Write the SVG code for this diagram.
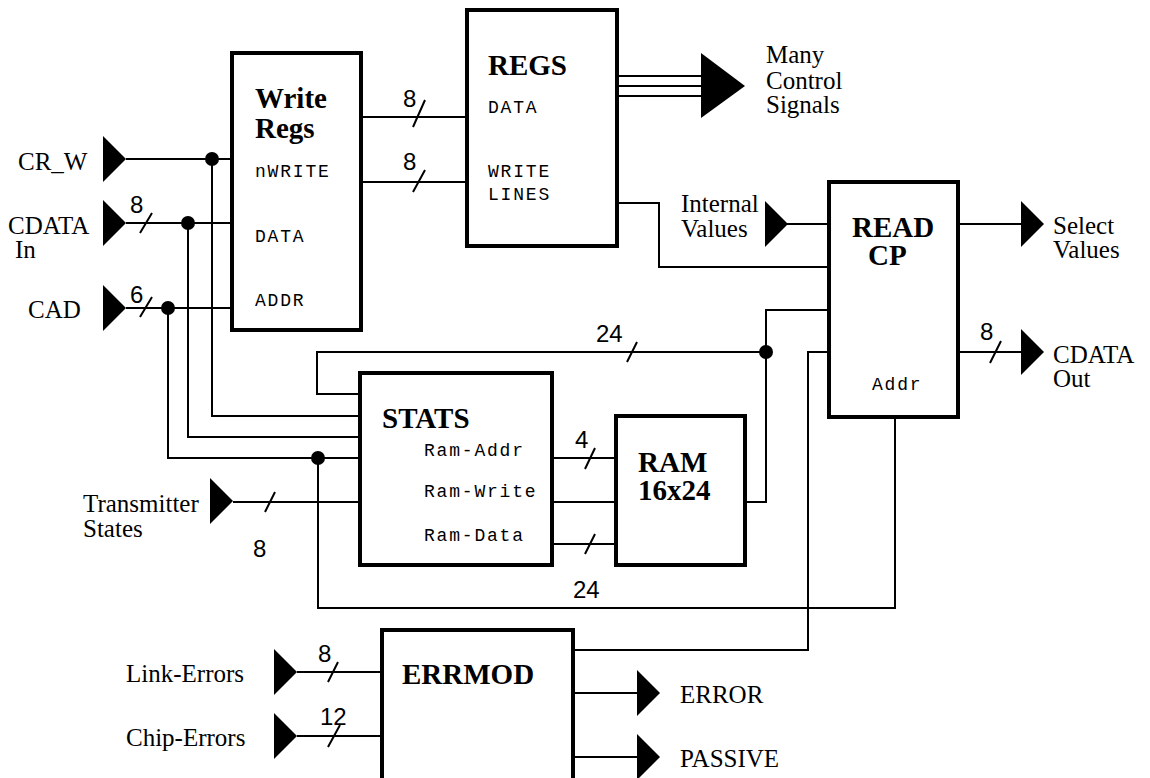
<svg xmlns="http://www.w3.org/2000/svg" xmlns:xlink="http://www.w3.org/1999/xlink" width="1150" height="778" viewBox="0 0 1150 778">
<style>
.box{fill:#fff;stroke:#000;stroke-width:4}
.wire{fill:none;stroke:#000;stroke-width:2}
.title{font-family:"Liberation Serif",serif;font-weight:bold;font-size:29px;fill:#000}
.lbl{font-family:"Liberation Serif",serif;font-size:25px;fill:#000}
.port{font-family:"Liberation Mono",monospace;font-size:18px;letter-spacing:1.8px;fill:#000}
.num{font-family:"Liberation Sans",sans-serif;font-size:24px;fill:#000}
.dot{fill:#000}
</style>
<defs>
<path id="tri" d="M0,-23 L23,0 L0,23 Z" fill="#000"/>
</defs>
<rect width="1150" height="778" fill="#fff"/>
<g id="connectors">
<path class="wire" d="M126,159 H232 M212,159 V416 H360"/>
<path class="wire" d="M126,223 H232 M188,223 V437 H360"/>
<path class="wire" d="M126,308 H232 M168,308 V458 H360"/>
<path class="wire" d="M361,117 H467 M361,182 H467"/>
<path class="wire" d="M617,76 H701 M617,86 H701 M617,96 H701"/>
<path class="wire" d="M617,203 H659 V267 H829"/>
<path class="wire" d="M787,224 H829 M958,224 H1022 M958,352 H1022"/>
<path class="wire" d="M360,394 H317 V352 H766"/>
<path class="wire" d="M745,502 H766 V310 H829"/>
<path class="wire" d="M573,650 H808 V352 H829"/>
<path class="wire" d="M895,417 V608 H318 V458"/>
<path class="wire" d="M233,502 H360"/>
<path class="wire" d="M552,458 H616 M552,502 H616 M552,544 H616"/>
<path class="wire" d="M297,672 H382 M297,736 H382"/>
<path class="wire" d="M573,693 H637 M573,757 H637"/>
<path class="wire" d="M152,213 L140,233 M152,297 L140,317 M425,100 L413,127 M425,170 L413,192 M637,342 L627,362 M1001,341 L990,363 M275,492 L265,512 M595,448 L585,469 M595,534 L585,554 M338,662 L328,682 M340,725 L328,747"/>
<circle class="dot" cx="212" cy="159" r="7"/>
<circle class="dot" cx="188" cy="223" r="7"/>
<circle class="dot" cx="168" cy="308" r="7"/>
<circle class="dot" cx="766" cy="352" r="7"/>
<circle class="dot" cx="318" cy="458" r="7"/>
<use xlink:href="#tri" x="103" y="159"/>
<use xlink:href="#tri" x="103" y="223"/>
<use xlink:href="#tri" x="103" y="308"/>
<use xlink:href="#tri" x="210" y="501"/>
<use xlink:href="#tri" x="765" y="224"/>
<use xlink:href="#tri" x="1021" y="224"/>
<use xlink:href="#tri" x="1021" y="352"/>
<use xlink:href="#tri" x="274" y="672"/>
<use xlink:href="#tri" x="274" y="736"/>
<use xlink:href="#tri" x="637" y="693"/>
<use xlink:href="#tri" x="637" y="757"/>
<path d="M701,53 L745,86 L701,118 Z" fill="#000"/>
<text class="num" x="130" y="213">8</text>
<text class="num" x="130" y="303">6</text>
<text class="num" x="403" y="107">8</text>
<text class="num" x="403" y="170">8</text>
<text class="num" x="596" y="342">24</text>
<text class="num" x="980" y="340">8</text>
<text class="num" x="253" y="557">8</text>
<text class="num" x="575" y="448">4</text>
<text class="num" x="573" y="598">24</text>
<text class="num" x="318" y="662">8</text>
<text class="num" x="320" y="725">12</text>
</g>
<g id="inputs">
<text class="lbl" x="18" y="170">CR_W</text>
<text class="lbl" x="8" y="234">CDATA</text>
<text class="lbl" x="15" y="258">In</text>
<text class="lbl" x="28" y="318">CAD</text>
<text class="lbl" x="83" y="512">Transmitter</text>
<text class="lbl" x="83" y="537">States</text>
<text class="lbl" x="126" y="682">Link-Errors</text>
<text class="lbl" x="126" y="746">Chip-Errors</text>
<text class="lbl" x="681" y="212">Internal</text>
<text class="lbl" x="681" y="237">Values</text>
</g>
<g id="outputs">
<text class="lbl" x="766" y="63">Many</text>
<text class="lbl" x="766" y="89">Control</text>
<text class="lbl" x="766" y="113">Signals</text>
<text class="lbl" x="1053" y="234">Select</text>
<text class="lbl" x="1053" y="258">Values</text>
<text class="lbl" x="1053" y="363">CDATA</text>
<text class="lbl" x="1053" y="387">Out</text>
<text class="lbl" x="680" y="703">ERROR</text>
<text class="lbl" x="680" y="767">PASSIVE</text>
</g>
<g id="write-regs">
<rect class="box" x="232" y="53" width="129" height="277"/>
<text class="title" x="255" y="108">Write</text>
<text class="title" x="255" y="138">Regs</text>
<text class="port" x="255" y="177">nWRITE</text>
<text class="port" x="255" y="242">DATA</text>
<text class="port" x="255" y="306">ADDR</text>
</g>
<g id="regs">
<rect class="box" x="467" y="10" width="150" height="236"/>
<text class="title" x="488" y="75">REGS</text>
<text class="port" x="488" y="113">DATA</text>
<text class="port" x="488" y="177">WRITE</text>
<text class="port" x="488" y="200">LINES</text>
</g>
<g id="read-cp">
<rect class="box" x="829" y="182" width="129" height="235"/>
<text class="title" x="852" y="237">READ</text>
<text class="title" x="868" y="265">CP</text>
<text class="port" x="872" y="390">Addr</text>
</g>
<g id="stats">
<rect class="box" x="360" y="373" width="192" height="192"/>
<text class="title" x="382" y="428">STATS</text>
<text class="port" x="424" y="456">Ram-Addr</text>
<text class="port" x="424" y="497">Ram-Write</text>
<text class="port" x="424" y="541">Ram-Data</text>
</g>
<g id="ram">
<rect class="box" x="616" y="416" width="129" height="149"/>
<text class="title" x="638" y="472">RAM</text>
<text class="title" x="638" y="500">16x24</text>
</g>
<g id="errmod">
<rect class="box" x="382" y="630" width="191" height="160"/>
<text class="title" x="402" y="684">ERRMOD</text>
</g>
</svg>
